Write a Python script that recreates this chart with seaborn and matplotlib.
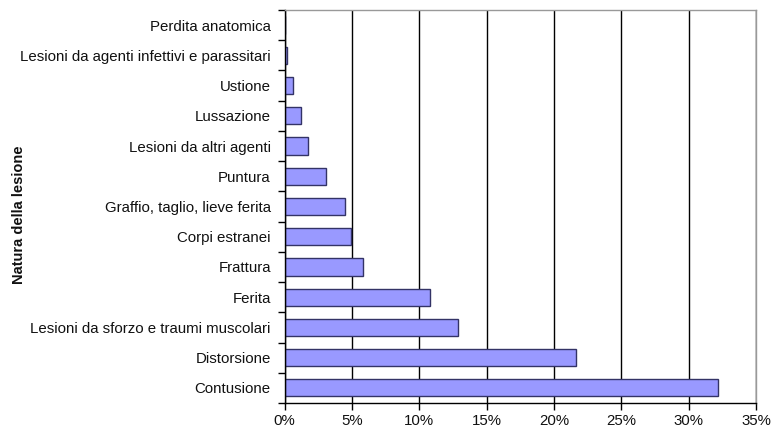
import matplotlib
matplotlib.use("Agg")
import matplotlib.pyplot as plt
import seaborn as sns
import numpy as np
import pandas as pd
from matplotlib.ticker import FuncFormatter, FixedLocator

# dati (dall'alto verso il basso)
categorie = [
    "Perdita anatomica",
    "Lesioni da agenti infettivi e parassitari",
    "Ustione",
    "Lussazione",
    "Lesioni da altri agenti",
    "Puntura",
    "Graffio, taglio, lieve ferita",
    "Corpi estranei",
    "Frattura",
    "Ferita",
    "Lesioni da sforzo e traumi muscolari",
    "Distorsione",
    "Contusione",
]
percentuali = [0.0, 0.2, 0.6, 1.2, 1.75, 3.1, 4.45, 4.9, 5.85, 10.8, 12.9, 21.6, 32.2]

df = pd.DataFrame({"lesione": categorie, "perc": percentuali})

sns.set_style("white")
plt.rcParams['font.family'] = ['Liberation Sans', 'DejaVu Sans']

fig = plt.figure(figsize=(7.72, 4.33), dpi=100)
ax = fig.add_axes([0.3688, 0.0693, 0.9793 - 0.3688, 0.977 - 0.0693])

sns.barplot(data=df, x="perc", y="lesione", orient="h", color="#9999FF",
            saturation=1, width=0.57, edgecolor="#333366", linewidth=1.0, ax=ax)

ax.set_xlim(0, 35)
ax.set_ylim(len(categorie) - 0.5, -0.5)
ax.set_xticks(np.arange(0, 36, 5))
ax.xaxis.set_major_formatter(FuncFormatter(lambda v, p: f"{v:.0f}%"))
ax.grid(axis="x", color="black", linewidth=1.0)
ax.set_axisbelow(True)

# tick sulle separazioni tra categorie
ax.yaxis.set_minor_locator(FixedLocator(np.arange(-0.5, len(categorie), 1)))
ax.tick_params(axis="y", which="major", length=0, pad=10, labelsize=10.8, labelcolor="#111111")
ax.tick_params(axis="y", which="minor", length=5, width=1, color="black", left=True)
ax.tick_params(axis="x", which="major", length=5, width=1, color="black", bottom=True,
               labelsize=10.8, pad=3, labelcolor="#111111")

for s in ["left", "bottom"]:
    ax.spines[s].set_color("black")
    ax.spines[s].set_linewidth(1.0)
for s in ["top", "right"]:
    ax.spines[s].set_color("#999999")
    ax.spines[s].set_linewidth(1.0)

ax.set_xlabel("")
ax.set_ylabel("Natura della lesione", fontsize=10.5, fontweight="bold", color="#111111")
ax.yaxis.set_label_coords(-0.548, 0.48)

fig.savefig("out.png", dpi=100)
